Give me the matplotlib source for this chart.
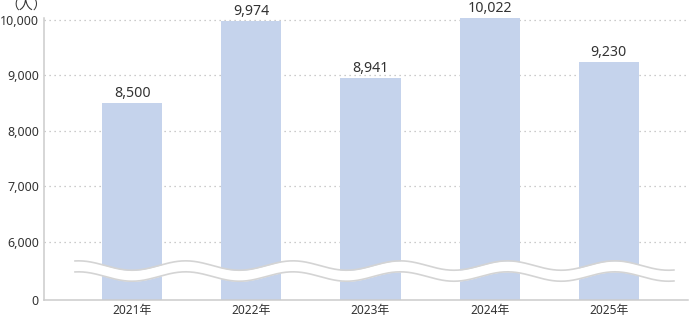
import numpy as np
import matplotlib
matplotlib.use('Agg')
import matplotlib.pyplot as plt

plt.rcParams['font.family'] = ['Noto Sans', 'Noto Sans CJK JP', 'DejaVu Sans']

years = ['2021年', '2022年', '2023年', '2024年', '2025年']
members = [8500, 9974, 8941, 10022, 9230]
yticks = [0, 6000, 7000, 8000, 9000, 10000]

BAR = '#c5d3ec'
TXT = '#333333'
AXC = '#cccccc'

# 0-6000 squeezed, 6000 upward linear (units ~ pixels)
LOW, STEP = 58.3, 55.6
def fwd(v):
    v = np.asarray(v, dtype=float)
    return np.where(v <= 6000, v / 6000 * LOW, LOW + (v - 6000) / 1000 * STEP)
def inv(p):
    p = np.asarray(p, dtype=float)
    return np.where(p <= LOW, p / LOW * 6000, 6000 + (p - LOW) / STEP * 1000)

fig = plt.figure(figsize=(6.9, 3.16), dpi=100, facecolor='white')
ax = fig.add_axes([44/690, 16/316, (688-44)/690, (300-18)/316])
ax.set_yscale('function', functions=(fwd, inv))

x = np.arange(len(years))
ax.bar(x, members, width=0.504, color=BAR, zorder=2)
for xi, v in zip(x, members):
    ax.annotate(f'{v:,}', (xi, v), xytext=(0, 4.3), textcoords='offset points',
                ha='center', va='baseline', fontsize=10.2, color=TXT, clip_on=False)

ax.set_xlim(-0.739, 4.664)
ax.set_ylim(0, 10030)
ax.set_xticks(x, years, fontsize=8.6, color=TXT)
ax.set_yticks(yticks, [f'{t:,}' for t in yticks], fontsize=9.0, color=TXT)
ax.tick_params(length=0, pad=3.6)
ax.tick_params(axis='x', pad=3)

for t in yticks[1:]:
    ax.axhline(t, color='#bbbbbb', lw=0.9, ls=(0, (1, 3)), zorder=1)

for s in ['top', 'right']:
    ax.spines[s].set_visible(False)
ax.spines['left'].set_color(AXC)
ax.spines['bottom'].set_color(AXC)
ax.spines['left'].set_linewidth(1.1)
ax.spines['bottom'].set_linewidth(1.1)

# wavy break
wx = np.linspace(-0.479, 4.546, 600)
top = 3551 - 484 * np.cos(2 * np.pi * wx / 0.9)
bot = top - 1132
ax.fill_between(wx, bot, top, color='white', zorder=3, lw=0)
ax.plot(wx, top, color='#d4d4d4', lw=1.2, zorder=4)
ax.plot(wx, bot, color='#d4d4d4', lw=1.2, zorder=4)

fig.text(26/690, 1 - 6/316, '（人）', ha='center', va='center', fontsize=10, color=TXT)

fig.savefig('out.png', dpi=100, facecolor='white')
